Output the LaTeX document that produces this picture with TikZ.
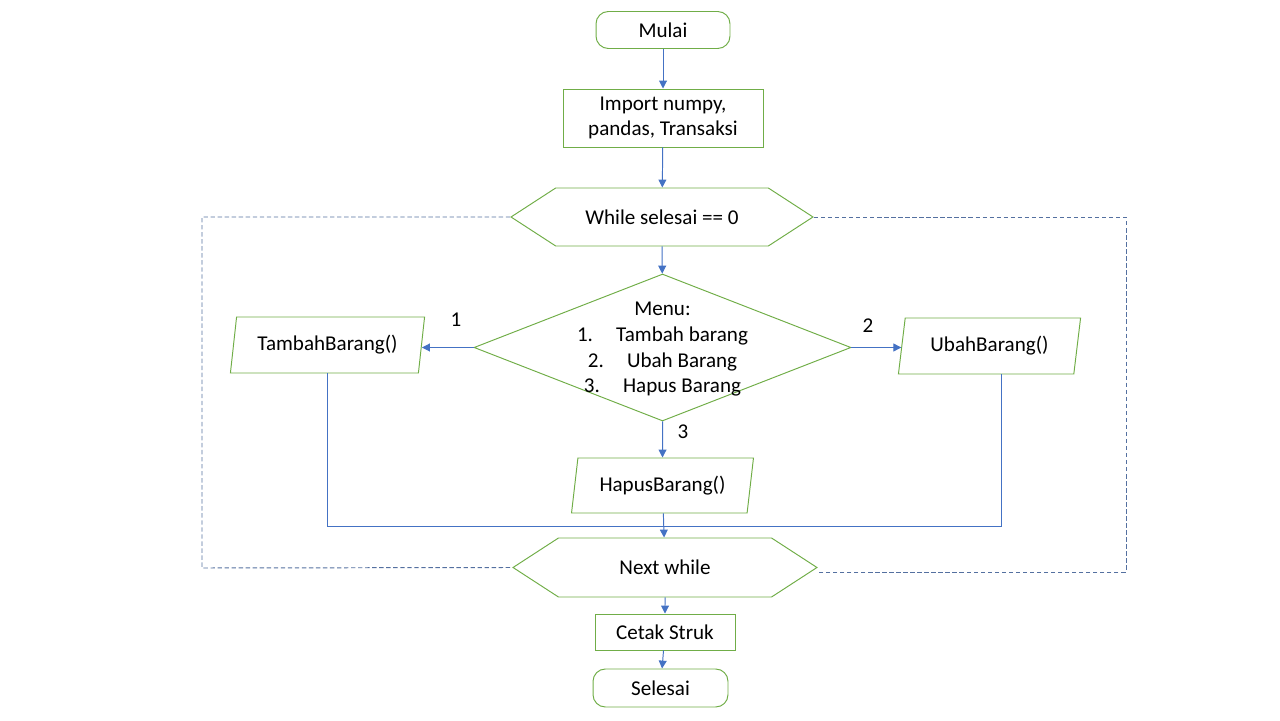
\documentclass[tikz,border=0pt]{standalone}
\usepackage{fontspec}
\setmainfont{Carlito}
\usetikzlibrary{positioning,arrows.meta,shapes.geometric,shapes.symbols,calc}
\definecolor{boxgreen}{HTML}{70AD47}
\definecolor{lineblue}{HTML}{4472C4}
\definecolor{loopblue}{HTML}{5470A0}
\tikzstyle{sbox}=[rectangle, rounded corners=7pt, draw=boxgreen, line width=0.55pt,
                  inner sep=0pt, text centered]
\tikzstyle{ibox}=[rectangle, draw=boxgreen, line width=0.55pt, inner sep=0pt,
                  align=center]
\tikzstyle{hbox}=[signal, signal to=west and east, signal pointer angle=66,
                  draw=boxgreen, line width=0.55pt, inner sep=0pt]
\tikzstyle{dbox}=[diamond, draw=boxgreen, line width=0.55pt, inner sep=0pt,
                  minimum width=7.54cm, minimum height=2.94cm]
\tikzstyle{iobox}=[trapezium, trapezium left angle=76, trapezium right angle=104,
                   trapezium stretches=true, draw=boxgreen, line width=0.55pt,
                   inner sep=0pt, minimum height=1.12cm]
\tikzstyle{fline}=[-{Triangle[length=4.5pt,width=4.5pt]}, draw=lineblue, line width=0.55pt]
\tikzstyle{pline}=[-, draw=lineblue, line width=0.55pt]
\tikzstyle{lline}=[-, draw=loopblue, line width=0.55pt, dash pattern=on 2.5pt off 1.5pt]
\tikzstyle{nlbl}=[inner sep=0pt]

\begin{document}
\begin{tikzpicture}[x=0.02cm, y=0.02cm, every node/.style={font=\fontsize{12}{14.6}\selectfont}]
\useasboundingbox (0,0) rectangle (1280,720);

\node (MULAI) [sbox, minimum width=2.68cm, minimum height=0.74cm] at (663,690) {Mulai};
\node (IMPORT) [ibox, minimum width=4cm, minimum height=1.16cm] at (663,602)
  {Import numpy,\\ pandas, Transaksi};
\node (WHILE) [hbox, minimum width=6.04cm, minimum height=1.16cm] at (662,503)
  {While selesai == 0};
\node (MENU) [dbox] at (662.5,372.5) {\makebox[0pt]{\smash{\raisebox{-4pt}{\begin{tabular}{c}
  Menu:\\
  1.\hspace{1.1em}Tambah barang\\
  2.\hspace{1.1em}Ubah Barang\\
  3.\hspace{1.1em}Hapus Barang
  \end{tabular}}}}};

\node (TAMBAH) [iobox, minimum width=3.9cm] at (327.5,375) {TambahBarang()};
\node (UBAH) [iobox, minimum width=3.66cm] at (989.5,374) {UbahBarang()};
\node (HAPUS) [iobox, minimum width=3.66cm, minimum height=1.1cm] at (662.5,234.5) {HapusBarang()};

\node (NEXT) [hbox, minimum width=6.08cm, minimum height=1.18cm] at (665,152.5) {Next while};
\node (CETAK) [ibox, minimum width=2.8cm, minimum height=0.72cm] at (665,88) {Cetak Struk};
\node (SELESAI) [sbox, minimum width=2.7cm, minimum height=0.76cm] at (660.5,32) {Selesai};

% menu choices
\node (C1) [nlbl] at (456,400) {1};
\node (C2) [nlbl] at (868,394) {2};
\node (C3) [nlbl] at (683,288) {3};

% main flow
\draw[fline] (MULAI) -- (IMPORT);
\draw[fline] (IMPORT) -- (WHILE);
\draw[fline] (WHILE) -- (MENU);
\draw[fline] (MENU.west) -- (TAMBAH.east |- MENU.west);
\draw[fline] (MENU.east) -- (UBAH.west |- MENU.east);
\draw[fline] (MENU) -- (HAPUS);

% back to the loop end
\coordinate (UJOIN) at (1001,194);
\draw[pline] (TAMBAH.south) |- (UJOIN) -- (UBAH.south -| UJOIN);
\draw[fline] (HAPUS) -- (NEXT);
\draw[fline] (NEXT) -- (CETAK);
\draw[fline] (CETAK) -- (SELESAI);

% while loop frame
\coordinate (LOOPL) at (202,152);
\coordinate (LOOPR) at (1126,148);
\draw[lline] (WHILE.west) -| (LOOPL) -- (NEXT.west);
\draw[lline] (WHILE.east) -| (LOOPR) -- (LOOPR -| NEXT.east);

\end{tikzpicture}
\end{document}
